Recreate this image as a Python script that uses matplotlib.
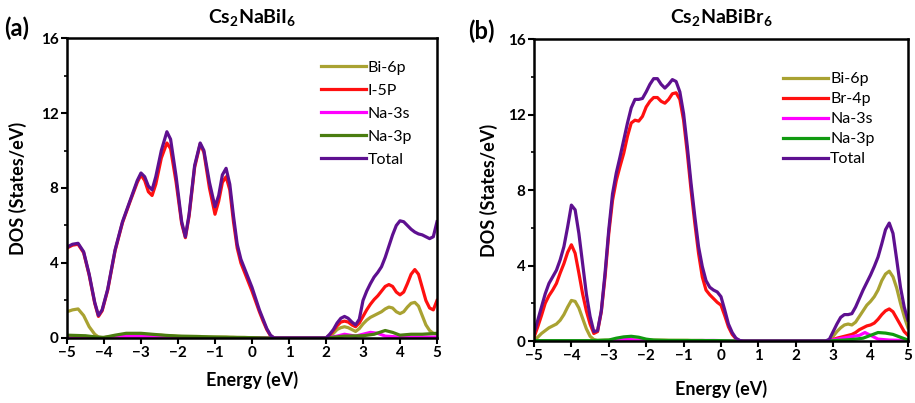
import matplotlib
matplotlib.use("Agg")
import matplotlib.pyplot as plt
from matplotlib.ticker import MultipleLocator

plt.rcParams["font.family"] = ["Lato", "DejaVu Sans"]
plt.rcParams["mathtext.fontset"] = "custom"
plt.rcParams["mathtext.rm"] = "Lato"
plt.rcParams["mathtext.bf"] = "Lato:bold"

# ---- panel (a) Cs2NaBiI6 ----
energy_a = [-5.0, -4.85, -4.7, -4.55, -4.4, -4.25, -4.15, -4.05, -3.9, -3.7,
            -3.5, -3.3, -3.1, -3.0, -2.9, -2.8, -2.7, -2.6, -2.45, -2.3,
            -2.2, -2.05, -1.9, -1.8, -1.7, -1.55, -1.4, -1.3, -1.15, -1.0,
            -0.9, -0.8, -0.7, -0.6, -0.5, -0.4, -0.3, -0.2, -0.1, 0.0,
            0.1, 0.2, 0.3, 0.4, 0.5, 0.6, 1.0, 1.5,
            2.0, 2.1, 2.2, 2.3, 2.4, 2.5, 2.6, 2.7, 2.8, 2.9,
            3.0, 3.1, 3.2, 3.3, 3.4, 3.5, 3.6, 3.7, 3.8, 3.9,
            4.0, 4.1, 4.2, 4.3, 4.4, 4.5, 4.6, 4.7, 4.8, 4.9, 5.0]
total_a = [4.85, 5.0, 5.05, 4.6, 3.4, 1.9, 1.2, 1.5, 2.6, 4.7,
           6.2, 7.3, 8.4, 8.8, 8.6, 8.1, 7.9, 8.6, 10.0, 11.0,
           10.6, 8.6, 6.2, 5.4, 6.6, 9.2, 10.4, 10.0, 8.3, 7.0,
           7.6, 8.7, 9.05, 8.2, 6.5, 5.0, 4.2, 3.7, 3.2, 2.7,
           2.1, 1.5, 1.0, 0.5, 0.15, 0.0, 0.0, 0.0,
           0.0, 0.2, 0.45, 0.8, 1.05, 1.15, 1.05, 0.85, 0.7, 1.0,
           2.0, 2.5, 2.9, 3.25, 3.5, 3.8, 4.3, 4.9, 5.5, 6.0,
           6.25, 6.2, 6.0, 5.8, 5.65, 5.55, 5.5, 5.4, 5.3, 5.4, 6.2]
i5p_a = [4.8, 4.95, 5.0, 4.55, 3.35, 1.85, 1.15, 1.45, 2.55, 4.65,
         6.15, 7.25, 8.3, 8.7, 8.4, 7.8, 7.6, 8.2, 9.6, 10.4,
         10.1, 8.3, 6.1, 5.35, 6.5, 9.1, 10.35, 9.9, 8.0, 6.6,
         7.3, 8.3, 8.6, 7.9, 6.2, 4.8, 4.0, 3.5, 3.0, 2.5,
         1.95, 1.4, 0.9, 0.45, 0.12, 0.0, 0.0, 0.0,
         0.0, 0.15, 0.4, 0.65, 0.85, 0.9, 0.85, 0.7, 0.6, 0.8,
         1.15, 1.5, 1.8, 2.05, 2.25, 2.5, 2.75, 2.85, 2.75, 2.45,
         2.3, 2.45, 2.9, 3.4, 3.65, 3.4, 2.7, 2.0, 1.6, 1.5, 2.0]
bi6p_a = [1.4, 1.5, 1.55, 1.2, 0.6, 0.2, 0.05, 0.02, 0.05, 0.1,
          0.15, 0.15, 0.15, 0.15, 0.15, 0.15, 0.15, 0.15, 0.15, 0.12,
          0.12, 0.1, 0.08, 0.08, 0.08, 0.08, 0.08, 0.06, 0.05, 0.05,
          0.05, 0.05, 0.05, 0.04, 0.04, 0.03, 0.03, 0.03, 0.02, 0.02,
          0.01, 0.01, 0.0, 0.0, 0.0, 0.0, 0.0, 0.0,
          0.0, 0.1, 0.25, 0.45, 0.55, 0.6, 0.55, 0.45, 0.35, 0.5,
          0.75, 0.95, 1.1, 1.2, 1.3, 1.4, 1.55, 1.65, 1.6, 1.4,
          1.3, 1.4, 1.65, 1.85, 1.9, 1.7, 1.2, 0.7, 0.4, 0.25, 0.2]
na3p_energy_a = [-5, -4.5, -4.2, -4.0, -3.7, -3.4, -3.0, -2.7, -2.4, -2.0, -1.5, -1.0,
                 -0.5, 0, 0.5, 2.0, 2.5, 3.0, 3.3, 3.6, 3.8, 4.0, 4.3, 4.6, 5.0]
na3p_a = [0.15, 0.12, 0.05, 0.03, 0.15, 0.25, 0.25, 0.2, 0.15, 0.1, 0.08, 0.05,
          0.03, 0.02, 0.0, 0.0, 0.1, 0.12, 0.2, 0.4, 0.3, 0.15, 0.2, 0.2, 0.25]
na3s_energy_a = [-5, -4, -3.5, -3.0, -2.5, -2.0, -1.0, 0, 0.5, 2.0,
                 2.3, 2.5, 2.8, 3.0, 3.2, 3.4, 3.6, 4.0, 4.5, 5.0]
na3s_a = [0.03, 0.02, 0.08, 0.08, 0.05, 0.03, 0.02, 0.01, 0.0, 0.0,
          0.1, 0.2, 0.1, 0.2, 0.3, 0.25, 0.1, 0.05, 0.05, 0.05]

# ---- panel (b) Cs2NaBiBr6 ----
energy_b = [-5.0, -4.9, -4.8, -4.7, -4.6, -4.5, -4.4, -4.3, -4.2, -4.1,
            -4.0, -3.9, -3.8, -3.7, -3.6, -3.5, -3.4, -3.3, -3.2, -3.1,
            -3.0, -2.9, -2.8, -2.7, -2.6, -2.5, -2.4, -2.3, -2.2, -2.1,
            -2.0, -1.9, -1.8, -1.7, -1.6, -1.5, -1.4, -1.3, -1.2, -1.1,
            -1.0, -0.9, -0.8, -0.7, -0.6, -0.5, -0.4, -0.3, -0.2, -0.1,
            0.0, 0.1, 0.2, 0.3, 0.4, 0.5, 0.6, 1.0, 2.0, 2.8,
            2.9, 3.0, 3.1, 3.2, 3.3, 3.4, 3.5, 3.6, 3.7, 3.8,
            3.9, 4.0, 4.1, 4.2, 4.3, 4.4, 4.5, 4.6, 4.7, 4.8, 4.9, 5.0]
total_b = [0.4, 1.1, 1.8, 2.5, 3.05, 3.4, 3.75, 4.3, 5.0, 6.05,
           7.2, 6.95, 5.7, 4.1, 2.5, 1.3, 0.5, 0.55, 1.6, 3.6,
           5.9, 7.8, 8.9, 9.75, 10.65, 11.55, 12.35, 12.8, 12.8, 12.85,
           13.2, 13.6, 13.9, 13.9, 13.6, 13.4, 13.6, 13.85, 13.75, 13.2,
           12.05, 10.3, 8.35, 6.6, 5.0, 3.95, 3.2, 2.85, 2.7, 2.6,
           2.35, 1.65, 0.9, 0.45, 0.15, 0.03, 0.0, 0.0, 0.0, 0.0,
           0.1, 0.5, 0.9, 1.25, 1.4, 1.4, 1.45, 1.8, 2.25, 2.7,
           3.1, 3.5, 3.95, 4.45, 5.15, 5.9, 6.25, 5.7, 4.3, 2.85, 1.8, 1.1]
br4p_b = [0.2, 0.75, 1.35, 2.0, 2.4, 2.7, 3.05, 3.6, 4.1, 4.7,
          5.1, 4.65, 3.6, 2.5, 1.6, 0.9, 0.4, 0.5, 1.55, 3.4,
          5.7, 7.45, 8.5, 9.25, 9.95, 10.85, 11.55, 11.7, 11.65, 11.9,
          12.4, 12.7, 12.9, 12.9, 12.7, 12.6, 12.8, 13.1, 13.15, 12.8,
          11.7, 9.95, 8.0, 6.25, 4.65, 3.4, 2.7, 2.45, 2.25, 2.05,
          1.9, 1.35, 0.75, 0.35, 0.12, 0.02, 0.0, 0.0, 0.0, 0.0,
          0.02, 0.08, 0.15, 0.2, 0.25, 0.3, 0.35, 0.45, 0.6, 0.7,
          0.8, 0.85, 0.95, 1.15, 1.4, 1.6, 1.7, 1.55, 1.2, 0.85, 0.5, 0.3]
bi6p_b = [0.05, 0.2, 0.4, 0.55, 0.7, 0.8, 0.9, 1.1, 1.4, 1.8,
          2.15, 2.1, 1.75, 1.2, 0.65, 0.25, 0.08, 0.03, 0.04, 0.05,
          0.05, 0.05, 0.05, 0.05, 0.05, 0.05, 0.05, 0.05, 0.05, 0.05,
          0.05, 0.05, 0.05, 0.05, 0.05, 0.05, 0.04, 0.04, 0.04, 0.04,
          0.04, 0.04, 0.03, 0.03, 0.03, 0.03, 0.02, 0.02, 0.02, 0.02,
          0.02, 0.01, 0.01, 0.0, 0.0, 0.0, 0.0, 0.0, 0.0, 0.0,
          0.02, 0.25, 0.5, 0.7, 0.85, 0.9, 0.85, 1.0, 1.3, 1.6,
          1.9, 2.1, 2.35, 2.7, 3.2, 3.55, 3.7, 3.4, 2.8, 2.0, 1.3, 0.7]
na3p_energy_b = [-5, -3.5, -3.0, -2.8, -2.6, -2.4, -2.2, -2.0, -1.8, -1.5, 0, 0.5,
                 2.8, 3.3, 3.6, 3.8, 4.0, 4.2, 4.4, 4.6, 4.8, 5.0]
na3p_b = [0.02, 0.02, 0.05, 0.15, 0.22, 0.25, 0.2, 0.1, 0.05, 0.03, 0.02, 0.0,
          0.0, 0.05, 0.1, 0.15, 0.3, 0.45, 0.42, 0.35, 0.2, 0.05]
na3s_energy_b = [-5, -3.0, -2.7, -2.5, -2.3, -2.0, -1.0, -0.2, 0.5, 2.8,
                 3.1, 3.4, 3.7, 3.85, 4.0, 4.2, 4.5, 5.0]
na3s_b = [0.0, 0.0, 0.05, 0.1, 0.05, 0.02, 0.02, 0.03, 0.0, 0.0,
          0.1, 0.2, 0.3, 0.45, 0.3, 0.1, 0.05, 0.03]

OLIVE = "#a9a232"
RED = "#ff1010"
MAGENTA = "#ff00ff"
PURPLE = "#5e1090"

fig = plt.figure(figsize=(9.15, 4.03), dpi=100)
ax_a = fig.add_axes([0.0732, 0.1613, 0.4044, 0.7444])
ax_b = fig.add_axes([0.5836, 0.1538, 0.4087, 0.7494])

panels = [
    (ax_a, [(energy_a, bi6p_a, OLIVE, "Bi-6p"),
            (energy_a, i5p_a, RED, "I-5P"),
            (na3s_energy_a, na3s_a, MAGENTA, "Na-3s"),
            (na3p_energy_a, na3p_a, "#4a7d10", "Na-3p"),
            (energy_a, total_a, PURPLE, "Total")],
     r"$\mathbf{Cs_2NaBiI_6}$", "(a)", 0.004, 28, (0.686, 0.925), 0.55, -0.108, -0.11),
    (ax_b, [(energy_b, bi6p_b, OLIVE, "Bi-6p"),
            (energy_b, br4p_b, RED, "Br-4p"),
            (na3s_energy_b, na3s_b, MAGENTA, "Na-3s"),
            (na3p_energy_b, na3p_b, "#109a10", "Na-3p"),
            (energy_b, total_b, PURPLE, "Total")],
     r"$\mathbf{Cs_2NaBiBr_6}$", "(b)", 0.512, 31, (0.666, 0.89), 0.36, -0.096, -0.129),
]

for ax, series, title, tag, tag_x, tag_y, leg_pos, leg_space, ylab_x, xlab_y in panels:
    for x, y, c, lab in series:
        ax.plot(x, y, color=c, lw=2.3, label=lab, solid_joinstyle="round")
    ax.set_xlim(-5, 5)
    ax.set_ylim(0, 16)
    ax.xaxis.set_major_locator(MultipleLocator(1))
    ax.yaxis.set_major_locator(MultipleLocator(4))
    ax.yaxis.set_minor_locator(MultipleLocator(2))
    for s in ax.spines.values():
        s.set_linewidth(1.8)
    ax.tick_params(which="major", direction="out", length=4, width=1.5, labelsize=11, pad=2)
    ax.tick_params(which="minor", direction="out", length=2.5, width=1.2)
    ax.tick_params(axis="x", which="minor", bottom=False)
    for lab in ax.get_xticklabels() + ax.get_yticklabels():
        lab.set_fontweight("bold")
    ax.set_xlabel("Energy (eV)", fontsize=13, fontweight="bold")
    ax.set_ylabel("DOS (States/eV)", fontsize=13, fontweight="bold")
    ax.yaxis.set_label_coords(ylab_x, 0.5)
    ax.xaxis.set_label_coords(0.5, xlab_y)
    ax.text(0.5, 1.07, title, transform=ax.transAxes, ha="center", va="center", fontsize=14)
    fig.text(tag_x, 1 - tag_y / 403, tag, fontsize=17, fontweight="bold", ha="left", va="center")
    ax.legend(loc="upper left", bbox_to_anchor=leg_pos, frameon=False, fontsize=11.5,
              handlelength=2.8, handletextpad=0.15, labelspacing=leg_space,
              borderpad=0, borderaxespad=0)

fig.savefig("out.png", dpi=100, facecolor="white")
